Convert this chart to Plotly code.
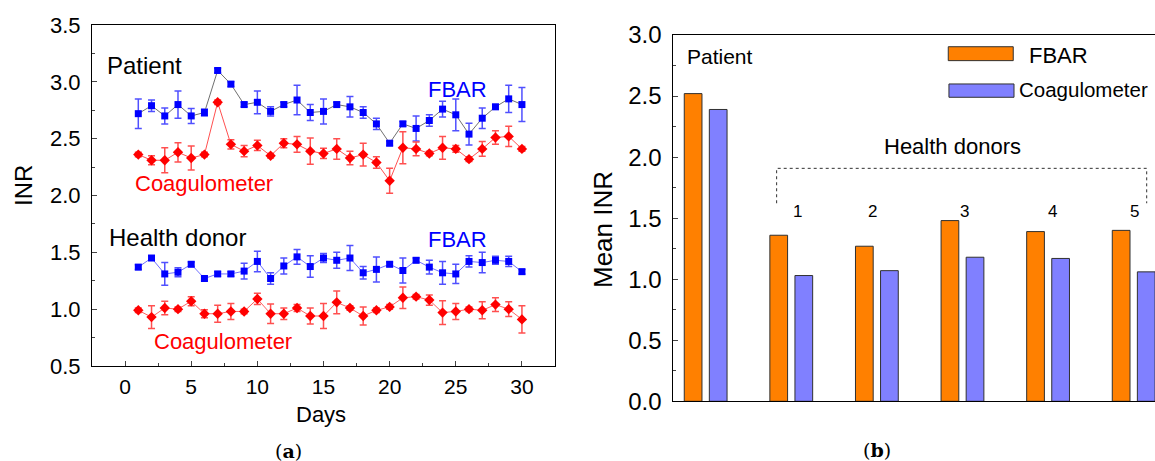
import plotly.graph_objects as go

# ---------------- data: panel (a) ----------------
days = list(range(1, 31))
pat_fbar = [2.72, 2.79, 2.70, 2.80, 2.70, 2.73, 3.10, 2.98, 2.80, 2.82,
            2.74, 2.80, 2.84, 2.73, 2.74, 2.80, 2.78, 2.73, 2.63, 2.46,
            2.63, 2.59, 2.66, 2.76, 2.71, 2.54, 2.68, 2.78, 2.85, 2.80]
pat_fbar_err = [0.13, 0.05, 0.07, 0.12, 0.066, 0.03, 0.02, 0.02, 0.02, 0.10,
                0.04, 0.02, 0.13, 0.07, 0.11, 0.02, 0.09, 0.05, 0.05, 0.02,
                0.02, 0.11, 0.05, 0.07, 0.14, 0.095, 0.09, 0.02, 0.12, 0.15]
pat_coag = [2.36, 2.31, 2.31, 2.38, 2.33, 2.36, 2.82, 2.45, 2.39, 2.44,
            2.35, 2.46, 2.45, 2.39, 2.37, 2.41, 2.33, 2.36, 2.29, 2.13,
            2.42, 2.41, 2.37, 2.42, 2.41, 2.32, 2.41, 2.51, 2.52, 2.41]
pat_coag_err = [0.02, 0.04, 0.11, 0.085, 0.105, 0.02, 0.02, 0.04, 0.05, 0.045,
                0.02, 0.04, 0.07, 0.115, 0.045, 0.09, 0.06, 0.10, 0.05, 0.11,
                0.14, 0.06, 0.02, 0.10, 0.03, 0.02, 0.065, 0.06, 0.09, 0.02]
don_fbar = [1.37, 1.45, 1.31, 1.325, 1.395, 1.27, 1.31, 1.31, 1.335, 1.42,
            1.27, 1.38, 1.46, 1.375, 1.45, 1.43, 1.45, 1.32, 1.35, 1.395,
            1.34, 1.43, 1.37, 1.32, 1.31, 1.42, 1.41, 1.43, 1.42, 1.33]
don_fbar_err = [0.02, 0.02, 0.10, 0.04, 0.02, 0.02, 0.02, 0.02, 0.07, 0.09,
                0.05, 0.07, 0.065, 0.095, 0.04, 0.07, 0.11, 0.055, 0.11, 0.02,
                0.11, 0.02, 0.06, 0.10, 0.085, 0.05, 0.09, 0.035, 0.045, 0.02]
don_coag = [0.99, 0.93, 1.01, 1.00, 1.07, 0.96, 0.96, 0.98, 0.98, 1.09,
            0.96, 0.96, 1.01, 0.94, 0.94, 1.06, 1.01, 0.94, 0.99, 1.02,
            1.10, 1.11, 1.08, 0.97, 0.98, 1.00, 0.99, 1.04, 1.00, 0.91]
don_coag_err = [0.02, 0.10, 0.06, 0.02, 0.04, 0.035, 0.075, 0.07, 0.02, 0.05,
                0.085, 0.05, 0.03, 0.07, 0.11, 0.10, 0.02, 0.08, 0.02, 0.02,
                0.095, 0.02, 0.045, 0.105, 0.07, 0.02, 0.075, 0.06, 0.065, 0.12]

# ---------------- data: panel (b) ----------------
groups = [0, 1, 2, 3, 4, 5]          # Patient, donors 1..5
group_labels = ["Patient", "1", "2", "3", "4", "5"]
mean_fbar = [2.52, 1.36, 1.27, 1.48, 1.39, 1.40]
mean_coag = [2.39, 1.03, 1.07, 1.18, 1.17, 1.06]

FONT = "Arial, 'Liberation Sans', sans-serif"
BLUE = "#0000ff"
RED = "#ff0000"
ORANGE = "#ff8000"
VIOLET = "#8080ff"

fig = go.Figure()


def series(y, err, color, symbol, size, line_color, err_color):
    return go.Scatter(
        x=days, y=y, mode="lines+markers",
        line=dict(color=line_color, width=1),
        marker=dict(color=color, symbol=symbol, size=size, line=dict(width=0)),
        error_y=dict(type="data", array=err, color=err_color, thickness=1.5, width=3.5),
        xaxis="x", yaxis="y", showlegend=False,
    )


fig.add_trace(series(pat_fbar, pat_fbar_err, BLUE, "square", 7, "#707070", "#5050ff"))
fig.add_trace(series(pat_coag, pat_coag_err, RED, "diamond", 8, "#ff5050", "#ff5050"))
fig.add_trace(series(don_fbar, don_fbar_err, BLUE, "square", 7, "#7070ff", "#5050ff"))
fig.add_trace(series(don_coag, don_coag_err, RED, "diamond", 8, "#ff6060", "#ff5050"))

# bars
fig.add_trace(go.Bar(x=groups, y=mean_fbar, width=0.207, offset=-0.25,
                     marker=dict(color=ORANGE, line=dict(color="#303030", width=1)),
                     xaxis="x2", yaxis="y2", showlegend=False))
fig.add_trace(go.Bar(x=groups, y=mean_coag, width=0.207, offset=0.043,
                     marker=dict(color=VIOLET, line=dict(color="#303030", width=1)),
                     xaxis="x2", yaxis="y2", showlegend=False))

W, H = 1155, 461

fig.update_layout(
    width=W, height=H, margin=dict(l=0, r=0, t=0, b=0, autoexpand=False),
    paper_bgcolor="white", plot_bgcolor="white",
    font=dict(family=FONT, color="black"),
    barmode="overlay",
    xaxis=dict(domain=[92 / W, 555 / W], range=[-2.5, 32.5],
               tickvals=[0, 5, 10, 15, 20, 25, 30], ticks="inside", ticklen=5,
               minor=dict(ticks="inside", ticklen=3, dtick=2.5, tick0=0),
               showline=True, linecolor="black", linewidth=1, mirror=True,
               showgrid=False, zeroline=False, tickfont=dict(size=21),
               ticklabelstandoff=2, automargin=False),
    yaxis=dict(domain=[(H - 366) / H, (H - 25) / H], range=[0.5, 3.5],
               tickvals=[0.5, 1.0, 1.5, 2.0, 2.5, 3.0, 3.5],
               ticktext=["0.5", "1.0", "1.5", "2.0", "2.5", "3.0", "3.5"],
               ticks="inside", ticklen=5,
               minor=dict(ticks="inside", ticklen=3, dtick=0.25, tick0=0.5),
               showline=True, linecolor="black", linewidth=1, mirror=True,
               showgrid=False, zeroline=False, tickfont=dict(size=22),
               ticklabelstandoff=6, automargin=False),
    xaxis2=dict(domain=[673.3 / W, 1.0], range=[-0.378, 5.249],
                showticklabels=False, ticks="",
                showline=True, linecolor="black", linewidth=1, mirror=True,
                showgrid=False, zeroline=False, automargin=False),
    yaxis2=dict(domain=[(H - 401.3) / H, (H - 35) / H], range=[0, 3], anchor="x2",
                tickvals=[0, 0.5, 1.0, 1.5, 2.0, 2.5, 3.0],
                ticktext=["0.0", "0.5", "1.0", "1.5", "2.0", "2.5", "3.0"],
                ticks="inside", ticklen=5,
                minor=dict(ticks="inside", ticklen=3, dtick=0.25, tick0=0),
                showline=True, linecolor="black", linewidth=1, mirror=False,
                showgrid=False, zeroline=False, tickfont=dict(size=24),
                ticklabelstandoff=6, automargin=False),
)
fig.update_layout(xaxis2_anchor="y2")

ann = []


def txt(text, x, y, size, color="black", xanchor="left", xref="x", yref="y", **kw):
    ann.append(dict(text=text, x=x, y=y, xref=xref, yref=yref, xanchor=xanchor,
                    yanchor="middle", showarrow=False,
                    font=dict(size=size, color=color, family=kw.get("family", FONT))))


# panel (a) labels
txt("Patient", -1.51, 3.148, 24)
txt("FBAR", 22.75, 2.934, 22, BLUE)
txt("Coagulometer", 0.58, 2.11, 22, RED)
txt("Health donor", -1.38, 1.627, 24)
txt("FBAR", 22.75, 1.609, 22, BLUE)
txt("Coagulometer", 2.02, 0.715, 22, RED)
# axis titles (a)
txt("Days", 321 / W, (H - 414) / H, 22, xanchor="center", xref="paper", yref="paper")
ann.append(dict(text="INR", x=23 / W, y=(H - 186) / H, xref="paper", yref="paper",
                textangle=-90, showarrow=False, xanchor="center", yanchor="middle",
                font=dict(size=24, family=FONT, color="black")))
# panel (b) labels
txt("Patient", -0.242, 2.822, 21, xref="x2", yref="y2")
txt("Health donors", 2.887, 2.085, 22, xanchor="center", xref="x2", yref="y2")
for g, xs in zip(group_labels[1:], [1.075, 1.946, 3.018, 4.054, 5.015]):
    txt(g, xs, 1.553, 17, xanchor="center", xref="x2", yref="y2")
txt("FBAR", 3.75, 2.836, 22, xref="x2", yref="y2")
txt("Coagulometer", 3.633, 2.550, 20.5, xref="x2", yref="y2")
ann.append(dict(text="Mean INR", x=603 / W, y=(H - 230) / H, xref="paper", yref="paper",
                textangle=-90, showarrow=False, xanchor="center", yanchor="middle",
                font=dict(size=26, family=FONT, color="black")))
# captions
SERIF = "'DejaVu Serif', 'Liberation Serif', serif"
txt("(<b>a</b>)", 288 / W, (H - 451) / H, 19, xanchor="center", xref="paper", yref="paper", family=SERIF)
txt("(<b>b</b>)", 877 / W, (H - 450) / H, 19, xanchor="center", xref="paper", yref="paper", family=SERIF)

fig.update_layout(annotations=ann)

shapes = [
    # legend swatches
    dict(type="rect", xref="x2", yref="y2", x0=2.834, x1=3.593, y0=2.790, y1=2.904,
         fillcolor=ORANGE, line=dict(color="#303030", width=1)),
    dict(type="rect", xref="x2", yref="y2", x0=2.842, x1=3.602, y0=2.490, y1=2.599,
         fillcolor=VIOLET, line=dict(color="#303030", width=1)),
    # dashed bracket over the donor groups
    dict(type="path", xref="x2", yref="y2",
         path="M 0.829 1.622 L 0.829 1.908 L 5.152 1.908 L 5.152 1.622",
         line=dict(color="#303030", width=1, dash="dot")),
]
fig.update_layout(shapes=shapes)

fig.write_html("out.html")
